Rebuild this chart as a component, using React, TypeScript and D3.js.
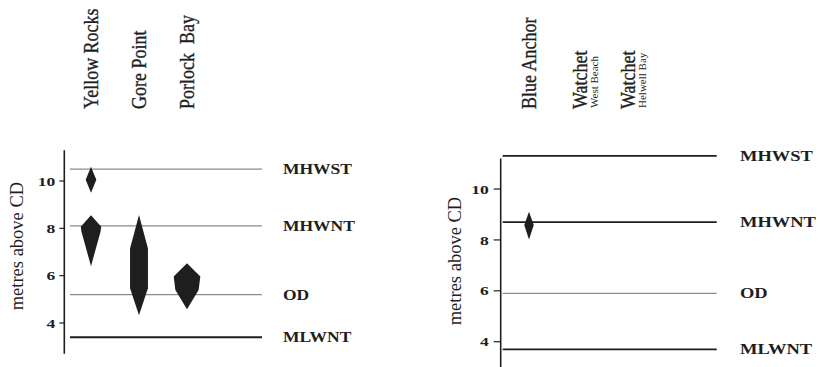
import React from "react";
import * as d3 from "d3";

// Sites along the coast, grouped into two panels
const westSites = ["Yellow Rocks", "Gore Point", "Porlock  Bay"];
const eastSites = ["Blue Anchor", "Watchet", "Watchet"];
const eastSubtitles = ["", "West Beach", "Helwell Bay"];

// Tidal datum names and their heights (m above chart datum) in each panel
const tideNames = ["MHWST", "MHWNT", "OD", "MLWNT"];
const westTideLevels = [10.5, 8.1, 5.2, 3.4];
const eastTideLevels = [11.3, 8.7, 5.9, 3.7];

const yTicks = [4, 6, 8, 10];

// Height distributions of the indicators: [height above CD, relative width]
const yellowRocksHigh: [number, number][] = [[10.6, 0], [10.05, 0.38], [9.5, 0]];
const yellowRocksLow: [number, number][] = [[8.55, 0], [8.07, 0.73], [7.86, 0.68], [6.4, 0]];
const gorePoint: [number, number][] = [[8.56, 0], [7.15, 0.64], [5.47, 0.64], [4.33, 0]];
const porlockBay: [number, number][] = [[6.52, 0], [5.96, 0.95], [5.4, 0.83], [4.58, 0]];
const blueAnchor: [number, number][] = [[9.11, 0], [8.59, 0.34], [8.02, 0]];

const westShapes = [
  { site: "Yellow Rocks", profile: yellowRocksHigh },
  { site: "Yellow Rocks", profile: yellowRocksLow },
  { site: "Gore Point", profile: gorePoint },
  { site: "Porlock  Bay", profile: porlockBay },
];
const eastShapes = [{ site: 0, profile: blueAnchor }];

const SERIF: React.CSSProperties = { fontFamily: '"Liberation Serif", "DejaVu Serif", serif' };
const INK = "#1e1e1e";
const GREY = "#8c8c8c";

const widthScale = d3.scaleLinear().domain([0, 1]).range([0, 14]);

type PanelProps = {
  axisX: number;
  yScale: d3.ScaleLinear<number, number>;
  lineX: [number, number];
  labelX: number;
  levels: number[];
  darkLines: boolean[];
  tickLen: number;
  tickGap: number;
  titleX: number;
  titleAt: number;
  labelStretch: number;
};

function Panel(p: PanelProps) {
  const [d0, d1] = p.yScale.domain();
  return (
    <g>
      {/* reference tide lines */}
      {p.levels.map((v, i) => (
        <line
          key={"l" + i}
          x1={p.lineX[0]}
          x2={p.lineX[1]}
          y1={p.yScale(v)}
          y2={p.yScale(v)}
          stroke={p.darkLines[i] ? INK : GREY}
          strokeWidth={p.darkLines[i] ? 1.8 : 1.3}
        />
      ))}
      {p.levels.map((v, i) => (
        <text
          key={"t" + i}
          transform={`translate(${p.labelX},${p.yScale(v)}) scale(${p.labelStretch},1)`}
          dy="0.36em"
          style={SERIF}
          fontWeight="bold"
          fontSize={14}
          fill={INK}
        >
          {tideNames[i]}
        </text>
      ))}
      {/* y axis */}
      <line x1={p.axisX} x2={p.axisX} y1={p.yScale(d0)} y2={p.yScale(d1)} stroke={INK} strokeWidth={1.6} />
      {yTicks.map((t) => (
        <g key={t}>
          <line
            x1={p.axisX - p.tickLen}
            x2={p.axisX}
            y1={p.yScale(t)}
            y2={p.yScale(t)}
            stroke={INK}
            strokeWidth={1.2}
          />
          <text
            transform={`translate(${p.axisX - p.tickLen - p.tickGap},${p.yScale(t)}) scale(1.3,1)`}
            dy="0.34em"
            textAnchor="end"
            style={SERIF}
            fontWeight="bold"
            fontSize={13.5}
            fill={INK}
          >
            {t}
          </text>
        </g>
      ))}
      <text
        transform={`translate(${p.titleX},${p.yScale(p.titleAt)}) rotate(-90)`}
        textAnchor="middle"
        style={SERIF}
        fontSize={18.5}
        fill={INK}
      >
        metres above CD
      </text>
    </g>
  );
}

function shapePath(profile: [number, number][], cx: number, y: d3.ScaleLinear<number, number>) {
  const area = d3
    .area<[number, number]>()
    .y((d) => y(d[0]))
    .x0((d) => cx - widthScale(d[1]))
    .x1((d) => cx + widthScale(d[1]));
  return area(profile) || "";
}

function SiteLabel({ x, name, sub }: { x: number; name: string; sub?: string }) {
  const base = 109;
  return (
    <g>
      <text
        transform={`translate(${sub ? x + 10 : x + 7},${base}) scale(1.15,1) rotate(-90)`}
        style={{ ...SERIF, whiteSpace: "pre" }}
        fontSize={18}
        fill={INK}
        stroke={INK}
        strokeWidth={0.3}
      >
        {name}
      </text>
      {sub ? (
        <text
          transform={`translate(${x + 21},${base - 1}) rotate(-90)`}
          style={SERIF}
          fontSize={11}
          fill={INK}
        >
          {sub}
        </text>
      ) : null}
    </g>
  );
}

export default function App() {
  // West panel scales
  const yWest = d3.scaleLinear().domain([2.7, 11.3]).range([353.8, 150.2]);
  const xWest = d3.scalePoint<string>().domain(westSites).range([91, 187]);
  // East panel scales
  const yEast = d3.scaleLinear().domain([2.9, 11.2]).range([369.7, 158.5]);
  const xEast = d3.scalePoint<number>().domain(eastSites.map((_, i) => i)).range([529, 625]);

  return (
    <svg
      width={820}
      height={367}
      style={{ position: "fixed", left: 0, top: 0, background: "#fff" }}
    >
      <rect width={820} height={367} fill="#fff" />
      <Panel
        axisX={64.3}
        yScale={yWest}
        lineX={[70, 262]}
        labelX={283}
        levels={westTideLevels}
        darkLines={[false, false, false, true]}
        tickLen={5}
        tickGap={4}
        titleX={23}
        titleAt={7.25}
        labelStretch={1.25}
      />
      <Panel
        axisX={500.7}
        yScale={yEast}
        lineX={[502.7, 716.7]}
        labelX={740}
        levels={eastTideLevels}
        darkLines={[true, true, false, true]}
        tickLen={7}
        tickGap={5}
        titleX={461}
        titleAt={7.17}
        labelStretch={1.32}
      />
      {westSites.map((s) => (
        <SiteLabel key={s} x={xWest(s) as number} name={s} />
      ))}
      {eastSites.map((s, i) => (
        <SiteLabel key={i} x={xEast(i) as number} name={s} sub={eastSubtitles[i]} />
      ))}
      {westShapes.map((sh, i) => (
        <path key={"w" + i} d={shapePath(sh.profile, xWest(sh.site) as number, yWest)} fill={INK} />
      ))}
      {eastShapes.map((sh, i) => (
        <path key={"e" + i} d={shapePath(sh.profile, xEast(sh.site) as number, yEast)} fill={INK} />
      ))}
    </svg>
  );
}
